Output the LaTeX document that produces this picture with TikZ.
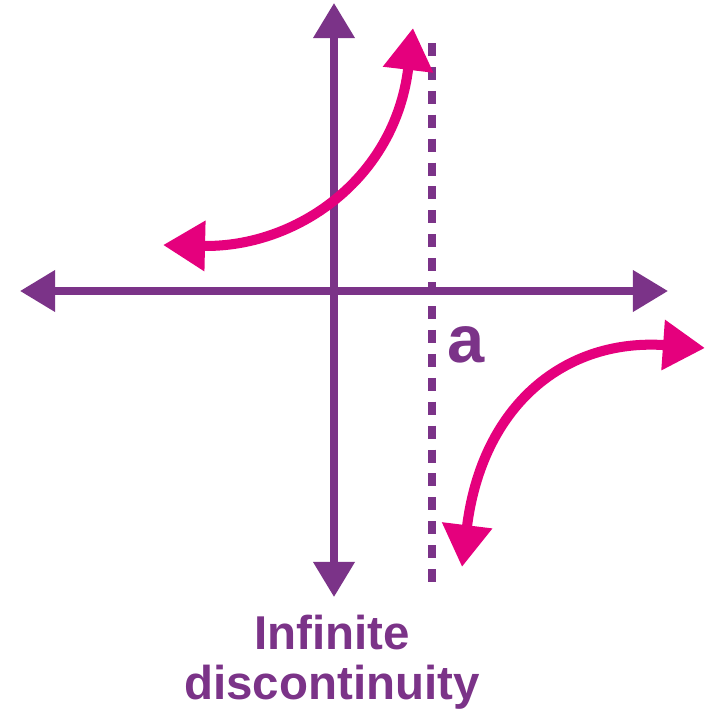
\documentclass[tikz,border=0pt]{standalone}
\usepackage{fontspec}
\setmainfont{Liberation Sans}
\usepackage{xcolor}
\usetikzlibrary{arrows.meta}
\definecolor{violet}{HTML}{7B3388}
\definecolor{rose}{HTML}{E5007D}

\begin{document}
\begin{tikzpicture}[
  x=0.01cm, y=-0.01cm,
  axe/.style={draw=violet, line width=2pt,
              {Triangle[length=0.35cm, width=0.40cm]}-{Triangle[length=0.35cm, width=0.40cm]}},
  courbe/.style={draw=rose, line width=2.85pt,
              {Triangle[length=0.42cm, width=0.48cm]}-{Triangle[length=0.42cm, width=0.48cm]}},
  asym/.style={draw=violet, line width=2.3pt, dash pattern=on 3.7pt off 3.1pt},
  lbl/.style={text=violet, font=\bfseries, inner sep=0pt}
]
\useasboundingbox (0,0) rectangle (705,712);
% axes
\coordinate (xg) at (20,291);
\coordinate (xd) at (668,291);
\coordinate (yh) at (334,3);
\coordinate (yb) at (334,597);
\draw[axe] (xg) -- (xd);
\draw[axe] (yh) -- (yb);
% asymptote x = a
\coordinate (ah) at (432,43);
\coordinate (ab) at (432,582);
\draw[asym] (ah) -- (ab);
\node[lbl, font=\bfseries\fontsize{19}{19}\selectfont] (a) at (466,345) {a};
% branches
\coordinate (g1) at (163,245);
\coordinate (g2) at (413,28);
\coordinate (d1) at (705,348);
\coordinate (d2) at (462,567);
\draw[courbe] (g1) .. controls (295,248) and (395,180) .. (g2);
\draw[courbe] (d1) .. controls (565,338) and (482,405) .. (d2);
% legende
\node[lbl, align=center, anchor=north, font=\bfseries\fontsize{13.5}{14.2}\selectfont]
  (titre) at (332,614) {Infinite\\ discontinuity};
\end{tikzpicture}
\end{document}
